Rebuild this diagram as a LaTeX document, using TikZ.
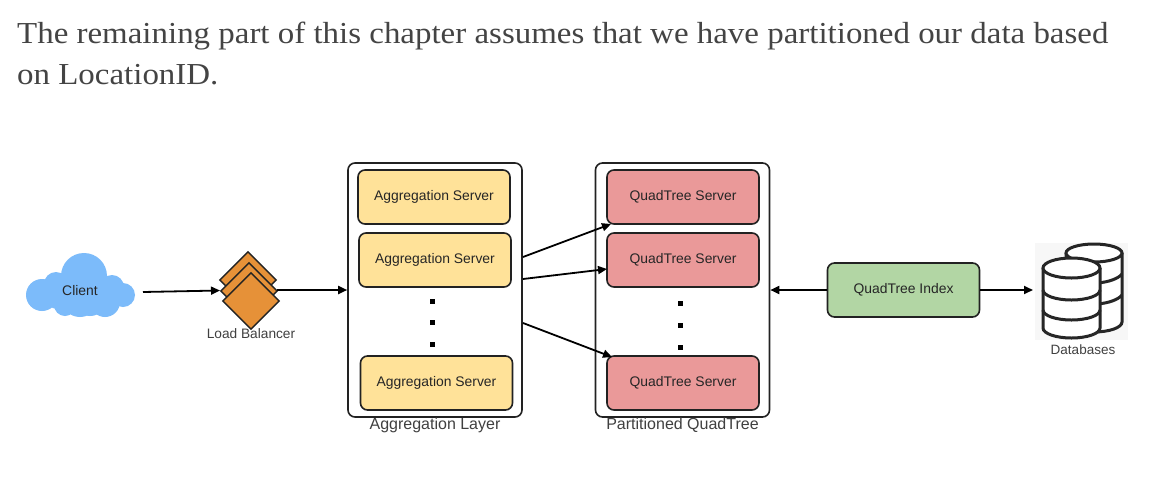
\documentclass[tikz,border=0pt]{standalone}
\usepackage{fontspec}
\setmainfont{Liberation Sans}
\newfontfamily\titlefont[FakeStretch=1.08]{Liberation Serif}
\usetikzlibrary{shapes.geometric,arrows.meta}
\definecolor{lineC}{HTML}{222222}
\definecolor{cloudC}{HTML}{7CBBFA}
\definecolor{lbC}{HTML}{E69138}
\definecolor{aggC}{HTML}{FFE299}
\definecolor{quadC}{HTML}{EA9999}
\definecolor{idxC}{HTML}{B2D6A4}
\definecolor{titleC}{HTML}{444444}
\tikzset{
  x=1pt,y=-1pt,
  server/.style={draw=lineC,line width=1.6pt,rounded corners=7pt,minimum width=#1,minimum height=54pt,inner sep=0pt,font=\fontsize{13.9}{15}\selectfont,text=black!85},
  outerbox/.style={draw=lineC,line width=1.6pt,rounded corners=7pt,fill=white,minimum width=174pt,minimum height=254pt,inner sep=0pt},
  lb/.style={diamond,draw=lineC,line width=1.4pt,fill=lbC,minimum width=57pt,minimum height=57pt,inner sep=0pt},
  lab/.style={font=\fontsize{#1}{15}\selectfont,text=black!75,inner sep=0pt},
  arr/.style={-{Triangle[length=9pt,width=8pt]},line width=1.8pt,black},
  dotm/.style={fill=black,minimum size=5pt,inner sep=0pt},
  title/.style={anchor=base west,inner sep=0pt,font=\titlefont\fontsize{30.5}{34}\selectfont,text=titleC},
  dbline/.style={line width=3pt,draw=black!85,fill=white},
  dbband/.style={line width=3pt,draw=black!85}
}
\begin{document}
\begin{tikzpicture}
\useasboundingbox (0,0) rectangle (1176,485);
\fill[white] (0,0) rectangle (1176,485);
\node[title] (t1) at (17,43) {The remaining part of this chapter assumes that we have partitioned our data based};
\node[title] (t2) at (17,84) {on LocationID.};

% cloud
\fill[cloudC] (84,276) circle (23) (42,295) circle (16) (123,295) circle (12)
  (65,305) circle (11) (105,302) circle (15) (80,298) circle (19) (56,284) circle (12)
  (112,287) circle (12) (90,298) circle (18) (58,295) circle (14);
\node[font=\fontsize{13.9}{15}\selectfont,text=black!85,inner sep=0pt] (client) at (80,291) {Client};

% load balancer
\node[lb] (lb1) at (248,280) {};
\node[lb] (lb2) at (249,291) {};
\node[lb] (lb3) at (251,301) {};
\node[lab=13.7] (lblab) at (251,334) {Load Balancer};

% aggregation
\node[outerbox] (agg) at (435,290) {};
\node[server=152pt,fill=aggC] (a1) at (434,197) {Aggregation Server};
\node[server=152pt,fill=aggC] (a2) at (435,260) {Aggregation Server};
\node[server=152pt,fill=aggC] (a3) at (436.5,383) {Aggregation Server};
\node[dotm] (ad1) at (432,301) {};
\node[dotm] (ad2) at (432,322) {};
\node[dotm] (ad3) at (432,344) {};
\node[lab=16] (agglab) at (435,425) {Aggregation Layer};

% quadtree
\node[outerbox] (quad) at (682.5,290) {};
\node[server=152pt,fill=quadC] (q1) at (683,197) {QuadTree Server};
\node[server=152pt,fill=quadC] (q2) at (683,260) {QuadTree Server};
\node[server=152pt,fill=quadC] (q3) at (683,383) {QuadTree Server};
\node[dotm] (qd1) at (680,303) {};
\node[dotm] (qd2) at (680,325) {};
\node[dotm] (qd3) at (680,347) {};
\node[lab=16] (quadlab) at (682.5,425) {Partitioned QuadTree};

% index
\node[server=152pt,fill=idxC] (idx) at (903.5,290) {QuadTree Index};

% databases
\fill[black!3] (1035,243) rectangle (1128,340);
\draw[dbline] (1066,253) -- (1066,322) arc[start angle=180,end angle=360,x radius=28,y radius=-10] -- (1122,253);
\draw[dbline] (1094,253) ellipse (28 and 9);
\draw[dbband] (1098,283) .. controls (1108,282) and (1118,279) .. (1122,274);
\draw[dbband] (1098,304) .. controls (1108,303) and (1118,300) .. (1122,295);
\draw[dbline] (1043,268) -- (1043,328) arc[start angle=180,end angle=360,x radius=28.5,y radius=-10] -- (1100,268);
\draw[dbline] (1071.5,268) ellipse (28.5 and 10);
\draw[dbband] (1043,290) arc[start angle=180,end angle=360,x radius=28.5,y radius=-10];
\draw[dbband] (1043,310) arc[start angle=180,end angle=360,x radius=28.5,y radius=-10];
\coordinate (dbin) at (1033,290);
\node[lab=13.5] (dblab) at (1083,350) {Databases};

% connectors
\coordinate (cout) at (143,292);
\coordinate (cin) at (220,290.5);
\coordinate (lbout) at (277,290);
\coordinate (aggin) at (agg.west |- lbout);
\draw[arr] (cout) -- (cin);
\draw[arr] (lbout) -- (aggin);
\coordinate (s1) at (523,257); \coordinate (e1) at (611,224);
\coordinate (s2) at (523,279); \coordinate (e2) at (607,269);
\coordinate (s3) at (523,323); \coordinate (e3) at (612,357);
\draw[arr] (s1) -- (e1);
\draw[arr] (s2) -- (e2);
\draw[arr] (s3) -- (e3);
\draw[arr] (idx.west) -- (quad.east);
\draw[arr] (idx.east) -- (dbin);
\end{tikzpicture}
\end{document}
